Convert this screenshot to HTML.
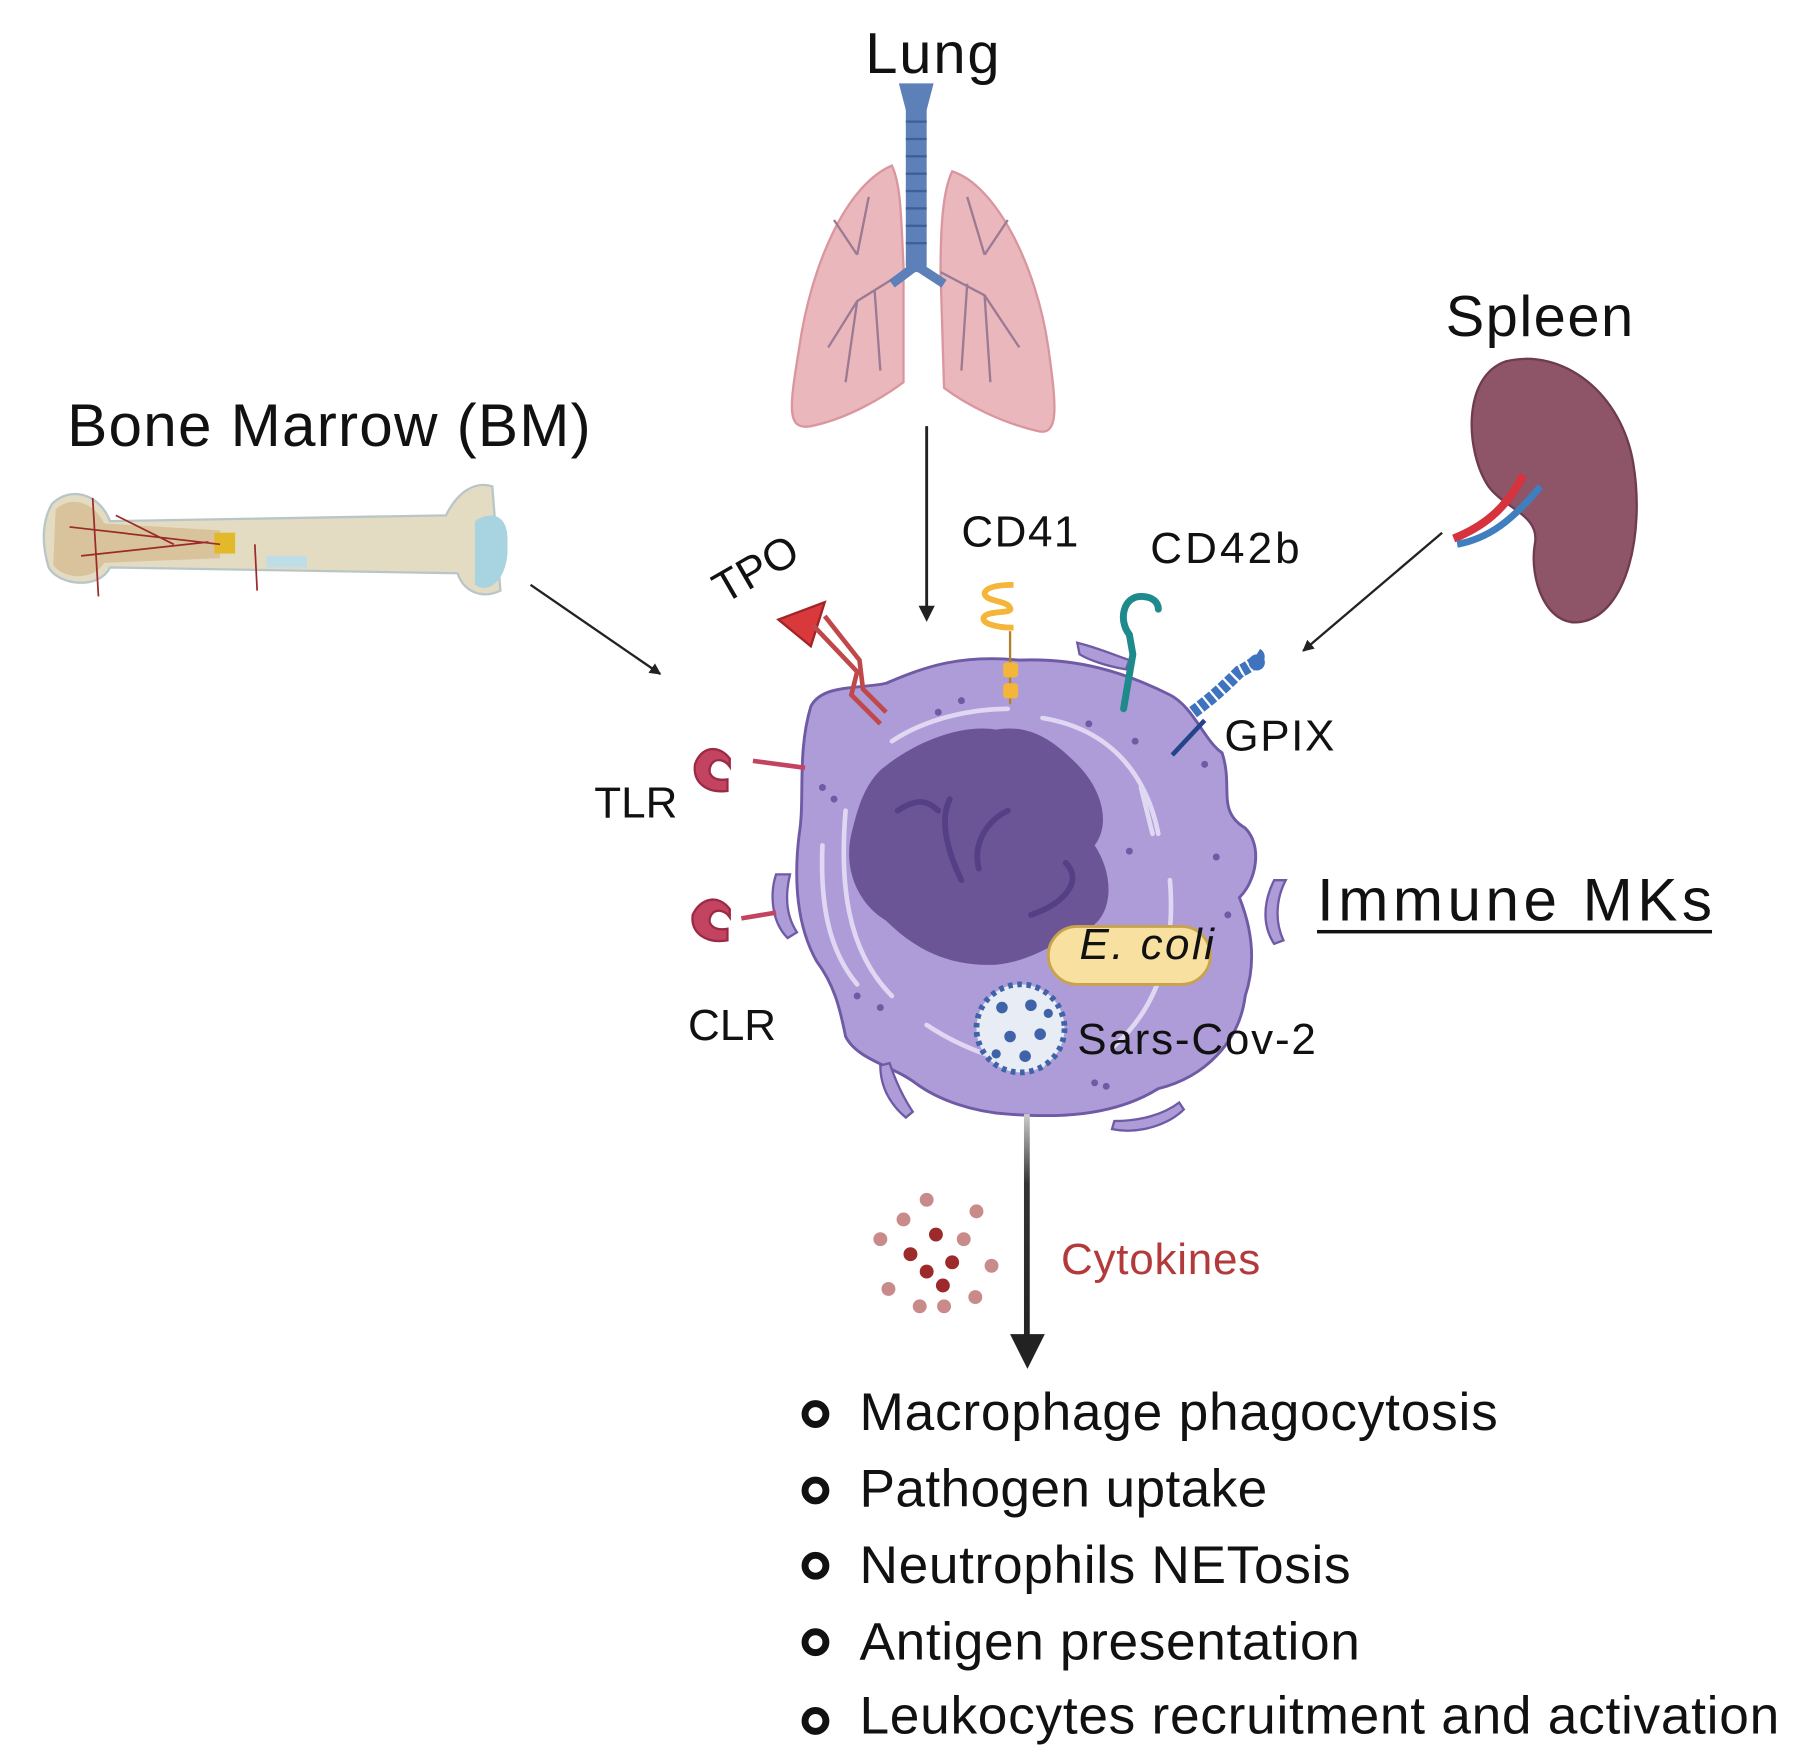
<!DOCTYPE html>
<html><head><meta charset="utf-8"><style>
html,body{margin:0;padding:0;background:#fff;}
svg{display:block;}
text{font-family:"Liberation Sans",sans-serif;fill:#111;}
</style></head><body>
<svg width="1807" height="1758" viewBox="0 0 1560 1518" preserveAspectRatio="none" xmlns="http://www.w3.org/2000/svg">
<defs>
<marker id="ah" markerWidth="10" markerHeight="10" refX="9" refY="5" orient="auto" markerUnits="userSpaceOnUse"><path d="M0,0 L10,5 L0,10 z" fill="#222"/></marker>
<marker id="ah2" viewBox="0 0 10 10" markerWidth="14" markerHeight="14" refX="5" refY="5" orient="auto" markerUnits="userSpaceOnUse"><path d="M0,0 L10,5 L0,10 z" fill="#222"/></marker>
<linearGradient id="gr" x1="0" y1="0" x2="0" y2="1"><stop offset="0" stop-color="#ccc"/><stop offset="0.3" stop-color="#333"/><stop offset="1" stop-color="#222"/></linearGradient>
</defs>

<!-- Lung -->
<text x="805" y="63" font-size="50" text-anchor="middle" textLength="116">Lung</text>
<path d="M770,143 C730,160 700,230 690,300 C682,350 678,372 700,368 C730,362 760,345 780,330 L780,230 C778,190 778,160 770,143 Z" fill="#eab7bd" stroke="#d9969e" stroke-width="2"/>
<path d="M822,148 C860,160 895,230 905,300 C912,350 915,378 895,372 C865,365 835,350 815,335 L812,235 C812,195 814,165 822,148 Z" fill="#eab7bd" stroke="#d9969e" stroke-width="2"/>
<g stroke="#9b7a93" stroke-width="2" fill="none">
<path d="M780,235 L740,260 L715,300 M740,260 L730,330 M755,250 L760,320 M740,220 L720,190 M740,220 L750,170"/>
<path d="M812,235 L850,255 L880,300 M850,255 L855,330 M835,245 L830,320 M850,220 L870,190 M850,220 L835,170"/>
</g>
<rect x="782" y="85" width="18" height="150" rx="6" fill="#5d80b8"/>
<path d="M776,72 L806,72 L800,95 L782,95 Z" fill="#5d80b8"/>
<path d="M790,230 L770,245 M792,230 L815,245" stroke="#5d80b8" stroke-width="8"/>
<g stroke="#3f5f96" stroke-width="2"><line x1="782" y1="105" x2="800" y2="105"/><line x1="782" y1="120" x2="800" y2="120"/><line x1="782" y1="135" x2="800" y2="135"/><line x1="782" y1="150" x2="800" y2="150"/><line x1="782" y1="165" x2="800" y2="165"/><line x1="782" y1="180" x2="800" y2="180"/><line x1="782" y1="195" x2="800" y2="195"/><line x1="782" y1="210" x2="800" y2="210"/></g>
<line x1="800" y1="368" x2="800" y2="530" stroke="#222" stroke-width="2.5" marker-end="url(#ah2)"/>

<!-- Spleen -->
<text x="1248" y="290" font-size="50" textLength="162">Spleen</text>
<path d="M1300,312 C1350,300 1400,340 1410,400 C1420,460 1405,530 1365,537 C1335,542 1320,500 1325,470 C1330,445 1300,440 1285,420 C1265,390 1262,325 1300,312 Z" fill="#8e5468" stroke="#6e3b4f" stroke-width="2"/>
<path d="M1255,465 C1280,455 1300,440 1315,410" stroke="#d6333f" stroke-width="7" fill="none"/>
<path d="M1258,470 C1285,465 1305,450 1330,420" stroke="#3f7fc0" stroke-width="6" fill="none"/>
<line x1="1245" y1="460" x2="1125" y2="562" stroke="#222" stroke-width="2" marker-end="url(#ah)"/>

<!-- Bone -->
<text x="58" y="385" font-size="52" textLength="452">Bone Marrow (BM)</text>
<path d="M45,435 C60,420 85,425 95,450 L385,445 C395,425 410,415 425,420 L432,510 C415,518 400,510 395,495 L95,490 C85,510 50,505 42,490 C36,470 36,450 45,435 Z" fill="#e3dcc2" stroke="#b9c6c8" stroke-width="2"/>
<path d="M48,440 C60,428 80,432 90,452 L190,458 L190,482 L90,486 C80,502 55,500 46,488 Z" fill="#d8c39c"/>
<rect x="185" y="460" width="18" height="18" fill="#e2b92a"/>
<path d="M410,450 C425,440 440,445 438,470 C440,495 425,515 410,505 Z" fill="#a8d3e0"/>
<rect x="230" y="480" width="35" height="10" fill="#bfdde6"/>
<g stroke="#9b2a2a" stroke-width="1.5" fill="none"><path d="M80,430 L85,515 M60,455 L190,470 M70,480 L180,468 M100,445 L150,470 M220,470 L222,510"/></g>
<line x1="458" y1="505" x2="570" y2="582" stroke="#222" stroke-width="2" marker-end="url(#ah)"/>

<!-- Cell -->
<path d="M700,610 C710,590 745,595 765,590 C800,575 830,565 880,570 C930,568 970,580 1010,600 C1030,610 1040,640 1055,650 C1065,680 1050,700 1075,715 C1090,730 1085,760 1070,775 C1080,800 1085,830 1075,860 C1070,900 1040,930 1000,940 C960,965 910,965 870,962 C840,960 810,950 790,935 C770,920 740,915 730,895 C725,870 720,850 705,830 C688,800 685,760 690,720 C695,690 688,650 700,610 Z" fill="#ad9cd8" stroke="#6e5aa5" stroke-width="2.5"/>
<g stroke="#e0d8f2" stroke-width="4" fill="none" stroke-linecap="round">
<path d="M730,700 C725,760 730,820 770,860"/><path d="M770,640 C800,620 840,612 870,612"/><path d="M900,620 C960,630 990,670 1000,720"/><path d="M1010,760 C1015,820 1000,870 960,905"/><path d="M800,885 C830,905 870,920 900,920"/><path d="M710,730 C708,780 715,820 740,850"/><path d="M985,680 L995,720"/>
</g>
<g fill="#6e5aa5"><circle cx="810" cy="615" r="3"/><circle cx="830" cy="605" r="3"/><circle cx="710" cy="680" r="3"/><circle cx="720" cy="690" r="3"/><circle cx="940" cy="625" r="3"/><circle cx="980" cy="640" r="3"/><circle cx="1040" cy="660" r="3"/><circle cx="975" cy="735" r="3"/><circle cx="1050" cy="740" r="3"/><circle cx="1060" cy="790" r="3"/><circle cx="740" cy="860" r="3"/><circle cx="760" cy="870" r="3"/><circle cx="945" cy="935" r="3"/><circle cx="955" cy="938" r="3"/><circle cx="900" cy="800" r="3"/></g>
<path d="M760,665 C790,640 830,625 860,630 C890,625 910,640 930,660 C950,680 960,710 945,730 C965,760 960,800 930,805 C910,815 890,830 860,833 C820,835 790,820 765,795 C740,780 728,750 735,720 C740,700 745,680 760,665 Z" fill="#6c5597"/>
<g stroke="#553f85" stroke-width="5" fill="none" stroke-linecap="round"><path d="M820,690 C810,710 820,740 830,760"/><path d="M870,700 C850,710 840,730 845,750"/><path d="M890,790 C920,780 935,760 920,745"/><path d="M775,700 C790,690 800,690 810,700"/></g>
<path d="M930,555 C950,560 960,565 975,570 L972,578 C955,575 940,570 932,565 Z" fill="#ad9cd8" stroke="#6e5aa5" stroke-width="2"/>
<path d="M1100,760 C1090,780 1090,800 1100,815 L1108,812 C1100,795 1102,775 1110,760 Z" fill="#ad9cd8" stroke="#6e5aa5" stroke-width="2"/>
<path d="M670,755 C665,770 665,795 680,810 L688,805 C678,790 678,772 682,755 Z" fill="#ad9cd8" stroke="#6e5aa5" stroke-width="2"/>
<path d="M760,920 C760,940 770,955 782,965 L788,960 C778,945 772,930 768,918 Z" fill="#ad9cd8" stroke="#6e5aa5" stroke-width="2"/>
<path d="M960,975 C985,980 1010,970 1022,958 L1018,952 C1005,962 985,968 962,968 Z" fill="#ad9cd8" stroke="#6e5aa5" stroke-width="2"/>

<!-- receptors -->
<path d="M672,535 L712,520 L700,558 Z" fill="#d9393b" stroke="#a12427" stroke-width="2"/>
<path d="M702,540 L740,580 L735,600 L760,625 M712,532 L742,570 L745,595 L765,615" stroke="#c0474a" stroke-width="4" fill="none"/>
<path d="M695,663 L650,657" stroke="#c24460" stroke-width="4"/>
<path d="M630,655 C620,642 605,645 600,660 C598,676 610,685 628,683 L628,673 C615,675 610,668 614,660 C618,654 626,656 630,662 Z" fill="#c24460" stroke="#9b2a44" stroke-width="2"/>
<path d="M670,788 L640,793" stroke="#c24460" stroke-width="4"/>
<path d="M630,785 C620,772 605,775 598,790 C596,806 610,815 628,812 L628,802 C615,804 610,797 614,790 C618,784 626,786 630,792 Z" fill="#c24460" stroke="#9b2a44" stroke-width="2"/>
<line x1="872" y1="545" x2="872" y2="608" stroke="#b0802a" stroke-width="2"/>
<rect x="866" y="572" width="13" height="13" rx="3" fill="#f3b53a"/><rect x="866" y="590" width="13" height="13" rx="3" fill="#f3b53a"/>
<path d="M875,542 C860,542 845,538 850,532 C855,527 875,530 872,525 C870,518 850,520 850,512 C852,505 870,505 875,505" stroke="#f3b53a" stroke-width="5" fill="none"/>
<path d="M970,612 L978,565 L975,548 C965,535 970,515 985,515 C995,515 1000,520 1000,526" stroke="#1e8a8c" stroke-width="6" fill="none" stroke-linecap="round"/>
<line x1="1012" y1="652" x2="1040" y2="622" stroke="#23448a" stroke-width="4"/>
<path d="M1030,615 C1050,600 1060,590 1070,580 C1080,575 1090,568 1085,565" stroke="#3f73bd" stroke-width="11" fill="none" stroke-dasharray="6 2"/>
<circle cx="1085" cy="572" r="7" fill="#3f73bd"/>

<!-- E. coli & virus -->
<rect x="905" y="800" width="140" height="50" rx="25" fill="#f8e1a0" stroke="#c9a34b" stroke-width="2.5"/>
<text x="932" y="828" font-size="38" font-style="italic" textLength="116">E. coli</text>
<circle cx="881" cy="888" r="38" fill="#e8ecf4" stroke="#3e63a8" stroke-width="5" stroke-dasharray="4 4"/>
<g fill="#3e63a8"><circle cx="865" cy="870" r="5"/><circle cx="890" cy="868" r="5"/><circle cx="872" cy="895" r="5"/><circle cx="898" cy="893" r="5"/><circle cx="860" cy="910" r="4"/><circle cx="885" cy="912" r="5"/><circle cx="905" cy="875" r="4"/></g>
<text x="930" y="910" font-size="38" textLength="206">Sars-Cov-2</text>

<!-- labels -->
<text x="0" y="0" font-size="38" transform="translate(625,522) rotate(-30)">TPO</text>
<text x="830" y="472" font-size="38" textLength="101">CD41</text>
<text x="993" y="486" font-size="38" textLength="129">CD42b</text>
<text x="1057" y="648" font-size="38" textLength="95">GPIX</text>
<text x="513" y="706" font-size="38">TLR</text>
<text x="594" y="898" font-size="38">CLR</text>
<text x="1137" y="795" font-size="52" textLength="341">Immune MKs</text>
<rect x="1137" y="803" width="341" height="3" fill="#111"/>

<!-- down arrow -->
<rect x="884" y="962" width="5" height="200" fill="url(#gr)"/>
<path d="M872,1152 L902,1152 L887,1182 Z" fill="#222"/>
<text x="916" y="1100" font-size="38" style="fill:#b23a3a" textLength="172">Cytokines</text>
<g fill="#c98a8a"><circle cx="800" cy="1036" r="6"/><circle cx="780" cy="1053" r="6"/><circle cx="843" cy="1046" r="6"/><circle cx="760" cy="1070" r="6"/><circle cx="832" cy="1070" r="6"/><circle cx="767" cy="1113" r="6"/><circle cx="842" cy="1120" r="6"/><circle cx="856" cy="1093" r="6"/><circle cx="794" cy="1128" r="6"/><circle cx="815" cy="1128" r="6"/></g>
<g fill="#9c2a2a"><circle cx="808" cy="1066" r="6"/><circle cx="786" cy="1083" r="6"/><circle cx="822" cy="1090" r="6"/><circle cx="800" cy="1098" r="6"/><circle cx="814" cy="1110" r="6"/></g>

<!-- bullets -->
<g fill="none" stroke="#111" stroke-width="6"><circle cx="704" cy="1221" r="9"/><circle cx="704" cy="1287" r="9"/><circle cx="704" cy="1352" r="9"/><circle cx="704" cy="1418" r="9"/><circle cx="704" cy="1486" r="9"/></g>
<g font-size="46"><text x="742" y="1235" textLength="551">Macrophage phagocytosis</text><text x="742" y="1301" textLength="352">Pathogen uptake</text><text x="742" y="1367" textLength="424">Neutrophils NETosis</text><text x="742" y="1433" textLength="432">Antigen presentation</text><text x="742" y="1497" textLength="794">Leukocytes recruitment and activation</text></g>
</svg>
</body></html>
